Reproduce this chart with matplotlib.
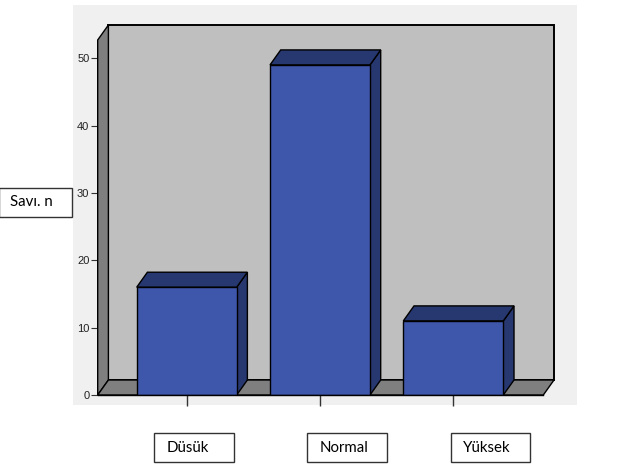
import matplotlib
matplotlib.use("Agg")
import matplotlib.pyplot as plt
from matplotlib.patches import Rectangle, Polygon
from matplotlib.transforms import ScaledTranslation

# ---- data ----
categories = ["Düsük", "Normal", "Yüksek"]
counts = [16, 49, 11]
y_ticks = [0, 10, 20, 30, 40, 50]
y_label = "Savı. n"

# ---- style / layout ----
W, H = 621, 474
DPI = 100
front_col = "#3f57aa"
dark_col = "#27376f"
wall_col = "#bfbfbf"
side_col = "#7f7f7f"
panel_col = "#f0f0f0"
bar_w = 0.75
dx_px, dy_px = 10.7, 15.0
ymax = 52.7
xlo, xhi = -0.6675, 2.675

fig = plt.figure(figsize=(W / DPI, H / DPI), dpi=DPI, facecolor="white")

def fx(px):
    return px / W

def fy(py):
    return 1 - py / H

# light grey panel behind chart
fig.patches.append(Rectangle((fx(72.7), fy(405)), fx(576.7) - fx(72.7), fy(4.7) - fy(405),
                             transform=fig.transFigure, facecolor=panel_col, edgecolor="none", zorder=-5))

ax = fig.add_axes([fx(97.7), fy(395), fx(543.3) - fx(97.7), fy(40) - fy(395)])
ax.set_zorder(2)
ax.set_xlim(xlo, xhi)
ax.set_ylim(0, ymax)
ax.patch.set_visible(False)
for s in ["top", "right", "left", "bottom"]:
    ax.spines[s].set_visible(False)

off = ax.transData + ScaledTranslation(dx_px / DPI, dy_px / DPI, fig.dpi_scale_trans)

# back wall
ax.add_patch(Rectangle((xlo, 0), xhi - xlo, ymax, transform=off,
                       facecolor=wall_col, edgecolor="black", lw=1.4, zorder=1, clip_on=False))

tD = ax.transData
inv = tD.inverted()

def shifted(x, y):
    disp = tD.transform((x, y)) + [dx_px, dy_px]
    return tuple(inv.transform(disp))

left_wall = [(xlo, 0), (xlo, ymax), shifted(xlo, ymax), shifted(xlo, 0)]
ax.add_patch(Polygon(left_wall, closed=True, facecolor=side_col, edgecolor="black",
                     lw=1.0, zorder=2, clip_on=False))
floor = [(xlo, 0), (xhi, 0), shifted(xhi, 0), shifted(xlo, 0)]
ax.add_patch(Polygon(floor, closed=True, facecolor=side_col, edgecolor="black",
                     lw=1.0, zorder=2, clip_on=False))

# bars
xs = list(range(len(categories)))
for x, v in zip(xs, counts):
    l, r = x - bar_w / 2, x + bar_w / 2
    side = [(r, 0), (r, v), shifted(r, v), shifted(r, 0)]
    top = [(l, v), (r, v), shifted(r, v), shifted(l, v)]
    ax.add_patch(Polygon(side, closed=True, facecolor=dark_col, edgecolor="black",
                         lw=1.0, zorder=3, clip_on=False))
    ax.add_patch(Polygon(top, closed=True, facecolor=dark_col, edgecolor="black",
                         lw=1.0, zorder=3, clip_on=False))
ax.bar(xs, counts, width=bar_w, color=front_col, edgecolor="black", linewidth=1.0, zorder=4)

ax.plot([xlo, xhi], [0, 0], color="black", lw=1.0, zorder=5, clip_on=False)

ax.set_yticks(y_ticks)
ax.set_yticklabels([str(t) for t in y_ticks], fontsize=8, color="#222222",
                   family="Liberation Sans")
ax.tick_params(axis="y", length=5, width=0.8, color="#333333", pad=1)
ax.set_xticks(xs)
ax.set_xticklabels([])
ax.tick_params(axis="x", length=8, width=1.0, color="#333333", direction="out")

# text boxes
def boxed(text, x0, x1, y0, y1, tx):
    fig.patches.append(Rectangle((fx(x0), fy(y1)), fx(x1) - fx(x0), fy(y0) - fy(y1),
                                 transform=fig.transFigure, facecolor="white",
                                 edgecolor="#333333", lw=1.0, zorder=10))
    fig.text(fx(tx), fy((y0 + y1) / 2), text, ha="left", va="center", fontsize=10.8,
             family="Lato", color="black", zorder=11)

boxed(y_label, -1, 71.7, 188.3, 216.7, 10)
box_x = [(154.3, 234.3, 166.7), (307.3, 386.7, 320), (451, 530, 463.3)]
for name, (x0, x1, tx) in zip(categories, box_x):
    boxed(name, x0, x1, 433.3, 462.3, tx)

fig.savefig("out.png", dpi=DPI, facecolor="white")
